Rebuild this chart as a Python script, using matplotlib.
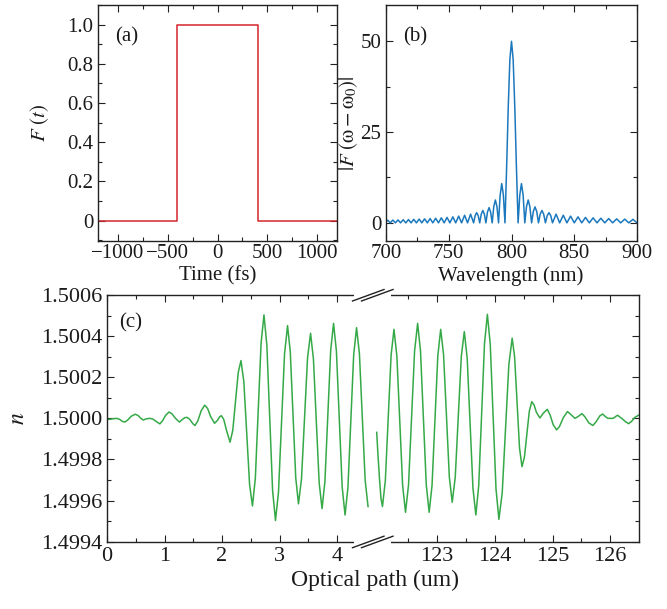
import matplotlib
matplotlib.use("Agg")
import matplotlib.pyplot as plt
from matplotlib.ticker import MultipleLocator, FixedLocator
from matplotlib.lines import Line2D
from matplotlib.patches import Polygon

plt.rcParams['font.family'] = ['Liberation Serif', 'DejaVu Serif']
plt.rcParams['mathtext.fontset'] = 'stix'

# ---------------- data ----------------
# (a) rectangular pulse
time_fs = [-1200, -410, -410, 410, 410, 1200]
pulse_F = [0, 0, 1, 1, 0, 0]

# (b) spectrum magnitude
spec_wl = [699.40, 701.41, 703.42, 705.46, 707.49, 709.55, 711.60, 713.69, 715.77, 717.88,
           719.98, 722.11, 724.24, 726.40, 728.55, 730.74, 732.92, 735.13, 737.33, 739.57,
           741.80, 744.07, 746.33, 748.62, 750.91, 753.23, 755.54, 757.89, 760.24, 762.62,
           764.99, 767.40, 769.80,
           771.02, 772.24, 773.46, 774.68,
           775.91, 777.15, 778.38, 779.61,
           780.86, 782.11, 783.36, 784.61,
           785.88, 787.14, 788.41, 789.67,
           790.95, 792.24, 793.52, 794.80,
           796.10, 797.40, 798.70, 800.00, 801.32, 802.63, 803.95, 805.26,
           806.60, 807.93, 809.27, 810.60,
           811.95, 813.30, 814.65, 816.00,
           817.37, 818.74, 820.11, 821.48,
           822.87, 824.26, 825.65, 827.04,
           828.44, 829.85, 831.26, 832.66,
           835.52, 838.37, 841.26, 844.15, 847.09, 850.02, 852.99, 855.96, 858.98, 861.99,
           865.05, 868.11, 871.21, 874.31, 877.46, 880.60, 883.79, 886.98, 890.22, 893.46,
           896.75, 900.03]
spec_amp = [0, 0.73, 0, 0.77, 0, 0.80, 0, 0.85, 0, 0.90,
            0, 0.96, 0, 1.03, 0, 1.10, 0, 1.18, 0, 1.27,
            0, 1.38, 0, 1.50, 0, 1.65, 0, 1.85, 0, 2.10,
            0, 2.40, 0,
            1.98, 2.80, 1.98, 0,
            2.40, 3.40, 2.40, 0,
            2.97, 4.20, 2.97, 0,
            4.45, 6.30, 4.45, 0,
            7.64, 10.80, 7.64, 0,
            15.0, 31.8, 45.0, 50.0, 45.0, 31.8, 15.0, 0,
            7.64, 10.80, 7.64, 0,
            4.45, 6.30, 4.45, 0,
            3.11, 4.40, 3.11, 0,
            2.40, 3.40, 2.40, 0,
            1.98, 2.80, 1.98, 0,
            2.40, 0, 2.10, 0, 1.85, 0, 1.65, 0, 1.50, 0,
            1.38, 0, 1.27, 0, 1.18, 0, 1.10, 0, 1.03, 0,
            0.96, 0]

# (c) refractive index, deviation from 1.5 in units of 1e-4
path_left = [0.00, 0.05, 0.10, 0.17, 0.22, 0.27, 0.31, 0.36, 0.42, 0.49,
             0.54, 0.59, 0.63, 0.69, 0.75, 0.80, 0.86, 0.92, 0.97, 1.02,
             1.08, 1.13, 1.19, 1.26, 1.30, 1.35, 1.39, 1.44, 1.49, 1.53,
             1.58, 1.64, 1.70, 1.75, 1.80, 1.87, 1.92, 1.96, 1.99, 2.03,
             2.08, 2.14,
             2.1875, 2.235, 2.2825, 2.33,
             2.38, 2.43, 2.48, 2.53,
             2.58, 2.63, 2.68, 2.73,
             2.78, 2.83, 2.88, 2.93,
             2.9825, 3.035, 3.0875, 3.14,
             3.1875, 3.235, 3.2825, 3.33,
             3.3825, 3.435, 3.4875, 3.54,
             3.59, 3.64, 3.69, 3.74,
             3.79, 3.84, 3.89, 3.94,
             3.99, 4.04, 4.09, 4.14,
             4.19, 4.24, 4.29, 4.34,
             4.39, 4.44, 4.49, 4.54]
dn_left = [-0.05, -0.05, -0.02, 0.00, -0.05, -0.15, -0.18, -0.08, 0.10, 0.20,
           0.14, 0.00, -0.08, -0.02, 0.00, -0.04, -0.16, -0.27, -0.10, 0.15,
           0.31, 0.22, 0.00, -0.18, -0.08, 0.03, 0.05, -0.05, -0.25, -0.35,
           -0.12, 0.38, 0.64, 0.48, 0.10, -0.24, -0.10, 0.08, 0.13, -0.05,
           -0.60, -1.16,
           -0.58, 0.83, 2.23, 2.81,
           1.78, -0.73, -3.23, -4.26,
           -2.90, 0.39, 3.67, 5.03,
           3.57, 0.03, -3.51, -4.97,
           -3.59, -0.23, 3.13, 4.51,
           3.24, 0.18, -2.89, -4.16,
           -2.95, -0.01, 2.93, 4.14,
           2.89, -0.13, -3.14, -4.39,
           -3.07, 0.12, 3.30, 4.62,
           3.26, -0.04, -3.34, -4.70,
           -3.37, -0.15, 3.08, 4.41,
           3.14, 0.06, -3.02, -4.29]
path_right = [121.95, 121.975, 122.00, 122.025, 122.05,
              122.10, 122.15, 122.20, 122.25,
              122.30, 122.35, 122.40, 122.45,
              122.5025, 122.555, 122.6075, 122.66,
              122.71, 122.76, 122.81, 122.86,
              122.91, 122.96, 123.01, 123.06,
              123.11, 123.16, 123.21, 123.26,
              123.3125, 123.365, 123.4175, 123.47,
              123.52, 123.57, 123.62, 123.67,
              123.72, 123.77, 123.82, 123.87,
              123.92, 123.97, 124.02, 124.07,
              124.1275, 124.185, 124.2425, 124.30,
              124.3425, 124.385, 124.4275, 124.47,
              124.5125, 124.555, 124.5975, 124.64,
              124.68, 124.72, 124.78, 124.84, 124.91, 124.96, 125.01, 125.07, 125.12, 125.19,
              125.26, 125.32, 125.39, 125.45, 125.51, 125.56, 125.63, 125.70, 125.76, 125.82,
              125.87, 125.92, 125.96, 126.05, 126.10, 126.13, 126.17, 126.20, 126.26, 126.32,
              126.37, 126.43, 126.49]
dn_right = [-0.68, -1.9, -3.0, -3.9, -4.29,
            -3.03, 0.02, 3.07, 4.33,
            3.03, -0.12, -3.27, -4.57,
            -3.23, 0.03, 3.28, 4.62,
            3.28, 0.03, -3.23, -4.57,
            -3.27, -0.12, 3.03, 4.33,
            3.10, 0.13, -2.85, -4.08,
            -2.87, 0.07, 3.01, 4.22,
            2.92, -0.24, -3.40, -4.70,
            -3.27, 0.18, 3.63, 5.06,
            3.60, 0.08, -3.45, -4.91,
            -3.62, -0.51, 2.61, 3.90,
            2.99, 0.78, -1.44, -2.35,
            -1.89, -0.77, 0.35, 0.81,
            0.65, 0.30, 0.02, 0.25, 0.44, 0.15, -0.30, -0.56, -0.40, 0.05,
            0.33, 0.18, 0.00, 0.10, 0.23, 0.08, -0.22, -0.35, -0.15, 0.12,
            0.21, 0.08, 0.00, 0.00, 0.10, 0.15, 0.06, 0.00, -0.15, -0.26,
            -0.15, 0.05, 0.15]
n_base = 1.5
n_scale = 1e-4

a_xticks = [-1000, -500, 0, 500, 1000]
a_xticklabels = ['\u22121000', '\u2212500', '0', '500', '1000']
a_yticks = [0, 0.2, 0.4, 0.6, 0.8, 1.0]
a_yticklabels = ['0', '0.2', '0.4', '0.6', '0.8', '1.0']
b_xticks = [700, 750, 800, 850, 900]
b_yticks = [0, 25, 50]
c_left_ticks = [0, 1, 2, 3, 4]
c_right_ticks = [123, 124, 125, 126]
c_yticks = [1.4994, 1.4996, 1.4998, 1.5000, 1.5002, 1.5004, 1.5006]

# ---------------- layout ----------------
W, H = 667, 609
fig = plt.figure(figsize=(W / 100, H / 100), dpi=100)


def rect(l, t, r, b):
    return [l / W, 1 - b / H, (r - l) / W, (b - t) / H]


def fx(px):
    return px / W


def fy(py):
    return 1 - py / H


FS = 15
FSC = 16
RED = '#d3242c'
BLUE = '#1b78bd'
GREEN = '#35a947'
SPINE = '#222222'
TXT = '#1a1a1a'


def style(ax, fs, top=True, right=True, left=True):
    ax.tick_params(which='both', direction='in', top=top, right=right, left=left,
                   labelsize=fs, colors=SPINE, labelcolor=TXT)
    ax.tick_params(which='major', length=5, width=0.8, pad=3.5)
    ax.tick_params(which='minor', length=2.8, width=0.8)
    for s in ax.spines.values():
        s.set_linewidth(1.0)
        s.set_color(SPINE)


# (a)
axa = fig.add_axes(rect(98, 5, 337, 241))
axa.plot(time_fs, pulse_F, color=RED, lw=1.1)
axa.set_xlim(-1200, 1200)
axa.set_ylim(-0.104, 1.1)
axa.set_xticks(a_xticks)
axa.set_xticklabels(a_xticklabels)
axa.set_yticks(a_yticks)
axa.set_yticklabels(a_yticklabels)
axa.xaxis.set_minor_locator(MultipleLocator(250))
axa.yaxis.set_minor_locator(MultipleLocator(0.1))
style(axa, FS)
axa.tick_params(axis='x', pad=2.5)
axa.text(0.07, 0.864, '(a)', transform=axa.transAxes, fontsize=FS, va='center', ha='left', color=TXT)
fig.text(fx(40), fy(123), r'$F\ (t)$', rotation=90, fontsize=FS, ha='center', va='center', color=TXT)
fig.text(fx(218), fy(276), 'Time (fs)', fontsize=FS, ha='center', va='center', color=TXT)

# (b)
axb = fig.add_axes(rect(386, 5, 637, 241))
axb.plot(spec_wl, spec_amp, color=BLUE, lw=1.1)
axb.set_xlim(700, 900)
axb.set_ylim(-5, 60)
axb.set_xticks(b_xticks)
axb.set_yticks(b_yticks)
axb.xaxis.set_minor_locator(MultipleLocator(25))
axb.yaxis.set_minor_locator(MultipleLocator(12.5))
style(axb, FS)
axb.tick_params(axis='x', pad=2.5)
axb.text(0.068, 0.864, '(b)', transform=axb.transAxes, fontsize=FS, va='center', ha='left', color=TXT)
fig.text(fx(349), fy(123), r'$|F\ (\mathrm{\omega} - \mathrm{\omega}_0)|$', rotation=90,
         fontsize=FS, ha='center', va='center', color=TXT)
fig.text(fx(511), fy(276), 'Wavelength (nm)', fontsize=FS, ha='center', va='center', color=TXT)

# (c) broken axis
XB = 371.5
axc1 = fig.add_axes(rect(107, 295, XB, 541.7))
axc2 = fig.add_axes(rect(XB, 295, 639, 541.7))
n_left = [n_base + v * n_scale for v in dn_left]
n_right = [n_base + v * n_scale for v in dn_right]
axc1.plot(path_left, n_left, color=GREEN, lw=1.1)
axc2.plot(path_right, n_right, color=GREEN, lw=1.1)
axc1.set_xlim(0, 4.6)
axc2.set_xlim(121.86, 126.5)
for ax in (axc1, axc2):
    ax.set_ylim(1.4994, 1.5006)
    ax.yaxis.set_major_locator(FixedLocator(c_yticks))
    ax.yaxis.set_minor_locator(MultipleLocator(0.0001))
axc1.set_yticklabels(['%.4f' % v for v in c_yticks])
axc1.set_xticks(c_left_ticks)
axc1.xaxis.set_minor_locator(FixedLocator([0.5, 1.5, 2.5, 3.5]))
axc2.set_xticks(c_right_ticks)
axc2.xaxis.set_minor_locator(FixedLocator([122.5, 123.5, 124.5, 125.5]))
style(axc1, FSC, right=False)
style(axc2, FSC, left=False)
axc2.tick_params(labelleft=False)
axc1.spines['right'].set_visible(False)
axc2.spines['left'].set_visible(False)
axc1.text(0.045, 0.886, '(c)', transform=axc1.transAxes, fontsize=FS, va='center', ha='left', color=TXT)
fig.text(fx(18), fy(418), r'$n$', rotation=90, fontsize=FSC + 1, ha='center', va='center', color=TXT)
fig.text(fx(375), fy(580), 'Optical path (um)', fontsize=FSC + 1, ha='center', va='center', color=TXT)

# break marks
for yc in (295, 541.7):
    mask = Polygon([[fx(354), fy(yc - 2.5)], [fx(391), fy(yc - 2.5)],
                    [fx(391), fy(yc + 2.5)], [fx(354), fy(yc + 2.5)]],
                   closed=True, transform=fig.transFigure, facecolor='white',
                   edgecolor='none', zorder=10)
    fig.add_artist(mask)
    for x0, x1 in ((352.5, 384), (361.5, 393)):
        fig.add_artist(Line2D([fx(x0), fx(x1)], [fy(yc + 6), fy(yc - 5.5)],
                              transform=fig.transFigure, color=SPINE, lw=1.0, zorder=11))

fig.savefig('out.png', dpi=100)
